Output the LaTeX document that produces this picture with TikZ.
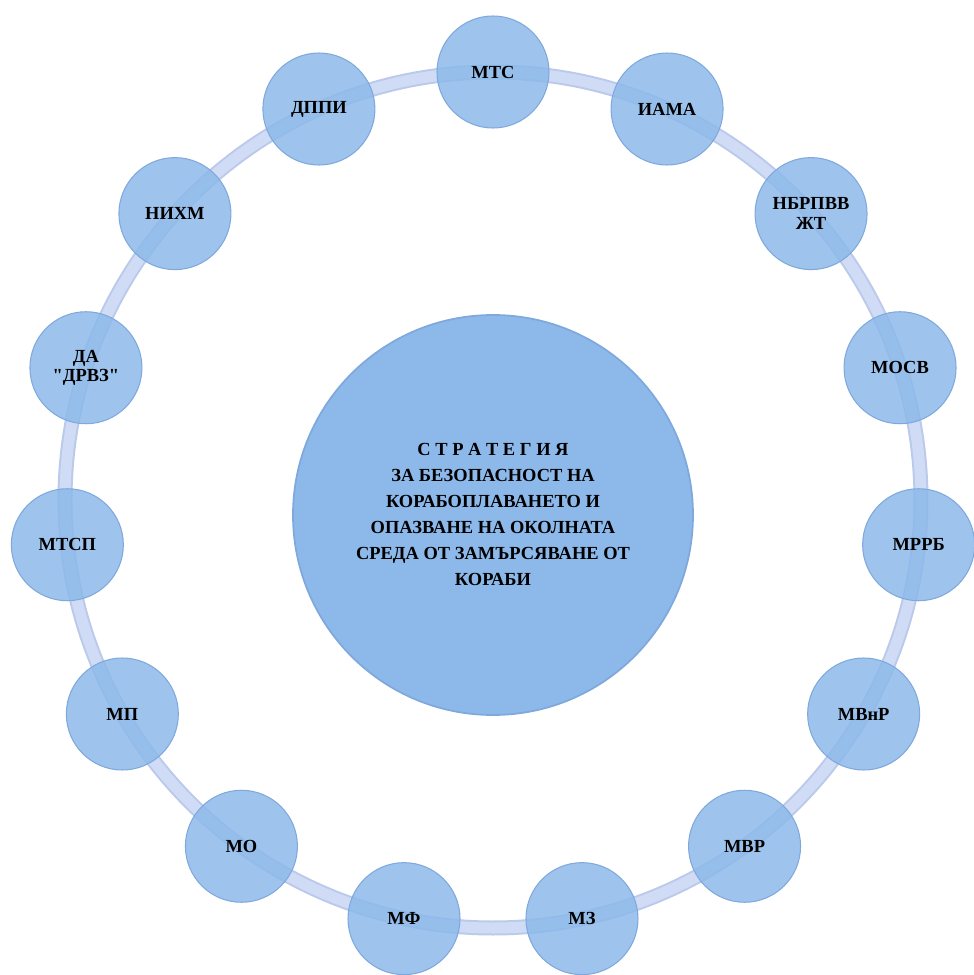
\documentclass[tikz,border=0pt]{standalone}
\usepackage{fontspec}
\setmainfont{Liberation Serif}
\definecolor{ringblue}{HTML}{D0DCF5}
\definecolor{ringedge}{HTML}{BBC9EA}
\definecolor{bubblefill}{HTML}{8DB9EA}
\definecolor{bubbleedge}{HTML}{7FA9DC}
\tikzset{
  agency/.style={circle, minimum size=2.24cm, inner sep=0pt, align=center,
    fill=bubblefill, fill opacity=0.85, text opacity=1, draw=bubbleedge, line width=0.6pt,
    font=\bfseries\fontsize{10.5}{11}\selectfont},
  strategy/.style={circle, minimum size=8cm, inner sep=0pt, align=center,
    fill=bubblefill, draw=bubbleedge, line width=1pt,
    font=\bfseries\fontsize{10.5}{14.8}\selectfont}
}
\begin{document}
\begin{tikzpicture}
  \useasboundingbox (-9.86,-9.5) rectangle (9.62,10.0);
  % ring
  \draw[ringedge, line width=0.3cm] (0,0) circle (8.56);
  \draw[ringblue, line width=0.22cm] (0,0) circle (8.56);
  % centre
  \node[strategy] (strat) at (0,-0.3) {\raisebox{0.3cm}{\begin{tabular}{c}С Т Р А Т Е Г И Я\\ЗА БЕЗОПАСНОСТ НА\\КОРАБОПЛАВАНЕТО И\\ОПАЗВАНЕ НА ОКОЛНАТА\\СРЕДА ОТ ЗАМЪРСЯВАНЕ ОТ\\КОРАБИ\end{tabular}}};
  % agencies round the ring
  \node[agency] (mts)    at (90:8.56)   {МТС};
  \node[agency] (iama)   at (66:8.56)   {ИАМА};
  \node[agency] (nbrpvv) at (42:8.56)   {НБРПВВ\\ЖТ};
  \node[agency] (mosv)   at (18:8.56)   {МОСВ};
  \node[agency] (mrrb)   at (-6:8.56)   {МРРБ};
  \node[agency] (mvnr)   at (-30:8.56)  {МВнР};
  \node[agency] (mvr)    at (-54:8.56)  {МВР};
  \node[agency] (mz)     at (-78:8.56)  {МЗ};
  \node[agency] (mf)     at (-102:8.56) {МФ};
  \node[agency] (mo)     at (-126:8.56) {МО};
  \node[agency] (mp)     at (-150:8.56) {МП};
  \node[agency] (mtsp)   at (-174:8.56) {МТСП};
  \node[agency] (drvz)   at (162:8.56)  {ДА\\\textquotedbl ДРВЗ\textquotedbl};
  \node[agency] (nihm)   at (138:8.56)  {НИХМ};
  \node[agency] (dppi)   at (114:8.56)  {ДППИ};
\end{tikzpicture}
\end{document}
